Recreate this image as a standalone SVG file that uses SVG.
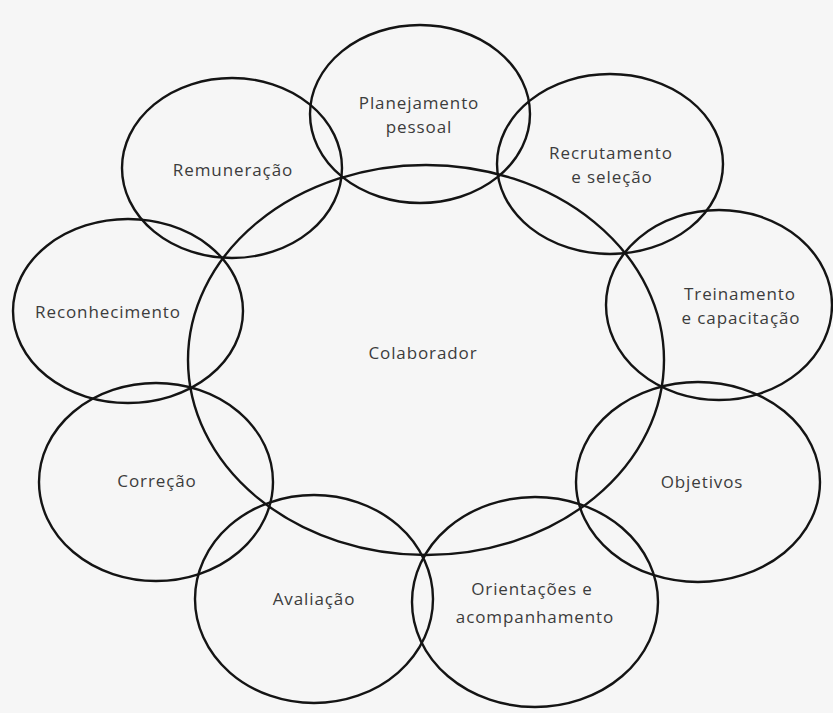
<svg xmlns="http://www.w3.org/2000/svg" width="833" height="713" viewBox="0 0 833 713">
<style>
.ring{fill:none;stroke:#141414;stroke-width:2.4}
.lbl{font-family:"Open Sans","Noto Sans","Liberation Sans",sans-serif;font-size:17px;letter-spacing:0.9px;fill:#3c3c3c;text-anchor:middle}
</style>
<rect x="0" y="0" width="833" height="713" fill="#f6f6f6"/>
<g id="colaborador">
<ellipse class="ring" cx="426" cy="360" rx="238" ry="195"/>
<text class="lbl" x="423" y="359">Colaborador</text>
</g>
<g id="planejamento">
<ellipse class="ring" cx="420" cy="114" rx="110" ry="89"/>
<text class="lbl" x="419" y="109">Planejamento</text>
<text class="lbl" x="419" y="133">pessoal</text>
</g>
<g id="recrutamento">
<ellipse class="ring" cx="610" cy="164" rx="113" ry="90"/>
<text class="lbl" x="611" y="159">Recrutamento</text>
<text class="lbl" x="612" y="183">e seleção</text>
</g>
<g id="treinamento">
<ellipse class="ring" cx="719" cy="305" rx="113" ry="95"/>
<text class="lbl" x="740" y="300">Treinamento</text>
<text class="lbl" x="741" y="324">e capacitação</text>
</g>
<g id="objetivos">
<ellipse class="ring" cx="698" cy="482" rx="122" ry="100"/>
<text class="lbl" x="702" y="488">Objetivos</text>
</g>
<g id="orientacoes">
<ellipse class="ring" cx="535" cy="602" rx="123" ry="105"/>
<text class="lbl" x="532" y="595">Orientações e</text>
<text class="lbl" x="535" y="623">acompanhamento</text>
</g>
<g id="avaliacao">
<ellipse class="ring" cx="314" cy="599" rx="119" ry="104"/>
<text class="lbl" x="314" y="605">Avaliação</text>
</g>
<g id="correcao">
<ellipse class="ring" cx="156" cy="482" rx="117" ry="99"/>
<text class="lbl" x="157" y="487">Correção</text>
</g>
<g id="reconhecimento">
<ellipse class="ring" cx="128" cy="311" rx="115" ry="92"/>
<text class="lbl" x="108" y="318">Reconhecimento</text>
</g>
<g id="remuneracao">
<ellipse class="ring" cx="232" cy="168" rx="110" ry="90"/>
<text class="lbl" x="233" y="176">Remuneração</text>
</g>
</svg>
